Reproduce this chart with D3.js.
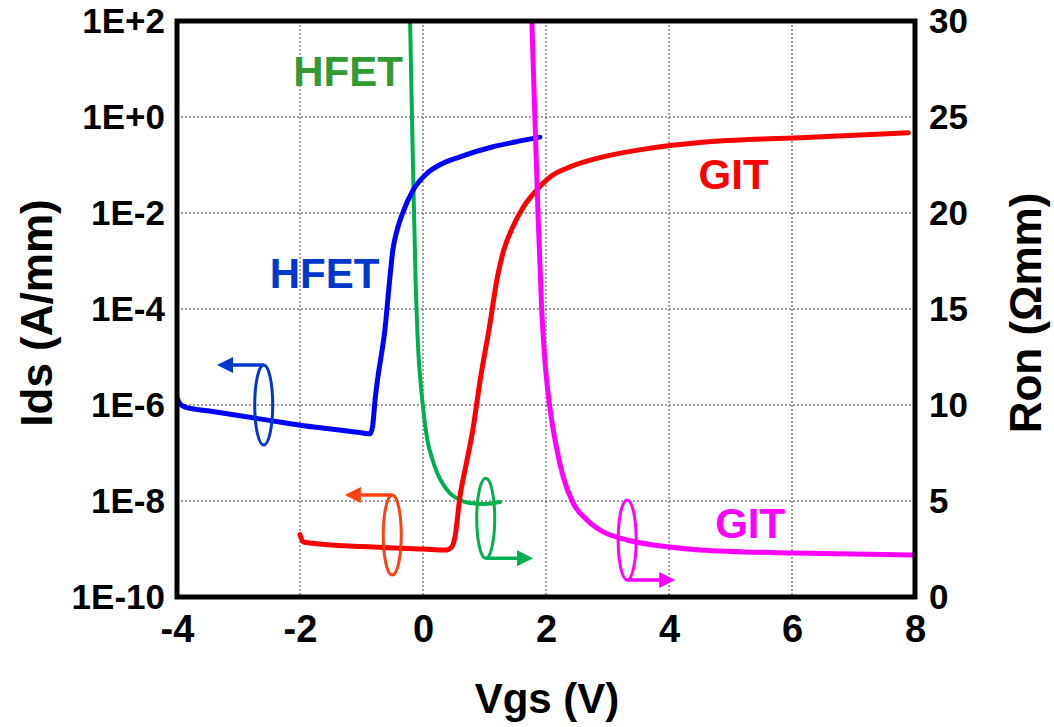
<!DOCTYPE html>
<html>
<head>
<meta charset="utf-8">
<script src="https://cdn.jsdelivr.net/npm/d3@7"></script>
<style>
  body { margin: 0; background: #fff; }
  svg { display: block; font-family: "Liberation Sans", Arial, sans-serif; font-weight: bold; }
</style>
</head>
<body>
<svg id="chart" width="1054" height="727"></svg>
<script>
// Ids (A/mm) vs Vgs, left log axis (values are log10)
const hfetIdsV = [-4.0, -3.95, -3.85, -3.5, -3.0, -2.5, -2.0, -1.5, -1.0, -0.86, -0.82, -0.78, -0.72, -0.67, -0.62, -0.55, -0.49, -0.42, -0.33, -0.16, 0.07, 0.3, 0.6, 1.14, 1.5, 1.9];
const hfetIdsLog = [-5.85, -5.98, -6.05, -6.12, -6.22, -6.32, -6.42, -6.5, -6.58, -6.6, -6.45, -5.9, -5.3, -4.9, -4.44, -3.5, -2.77, -2.35, -2.0, -1.52, -1.17, -0.98, -0.83, -0.62, -0.52, -0.42];

const gitIdsV = [-2.0, -1.95, -1.8, -1.0, 0.0, 0.38, 0.46, 0.52, 0.6, 0.7, 0.81, 0.93, 1.09, 1.2, 1.3, 1.46, 1.63, 1.85, 2.11, 2.39, 2.93, 3.69, 4.5, 6.13, 7.89];
const gitIdsLog = [-8.7, -8.85, -8.88, -8.95, -9.0, -9.02, -8.97, -8.75, -7.92, -7.25, -6.52, -5.48, -4.3, -3.4, -2.83, -2.29, -1.88, -1.52, -1.21, -1.04, -0.83, -0.65, -0.53, -0.43, -0.33];

// Ron (ohm mm) vs Vgs, right linear axis
const hfetRonV = [-0.22, -0.21, -0.16, -0.12, -0.08, -0.04, 0.0, 0.07, 0.15, 0.23, 0.33, 0.44, 0.6, 0.76, 1.0, 1.25];
const hfetRon = [31.5, 30, 22, 16.5, 13, 11.2, 9.9, 8.2, 7.2, 6.46, 5.85, 5.4, 5.05, 4.9, 4.85, 4.95];

const gitRonV = [1.76, 1.77, 1.87, 1.93, 1.99, 2.07, 2.17, 2.28, 2.44, 2.67, 2.93, 3.32, 4.0, 4.5, 6.02, 7.97];
const gitRon = [31, 30, 20, 15, 12, 9.7, 7.8, 6.25, 4.9, 4.0, 3.39, 2.97, 2.6, 2.45, 2.29, 2.19];

// tick labels
const xTicks = [-4, -2, 0, 2, 4, 6, 8];
const idsTicks = [1e2, 1e0, 1e-2, 1e-4, 1e-6, 1e-8, 1e-10];
const ronTicks = [0, 5, 10, 15, 20, 25, 30];

const svg = d3.select("#chart");
const pL = 177, pR = 915, pT = 21, pB = 597;

const x = d3.scaleLinear().domain([-4, 8]).range([pL, pR]);
const yIds = d3.scaleLog().domain([1e-10, 1e2]).range([pB, pT]);
const yRon = d3.scaleLinear().domain([0, 30]).range([pB, pT]);

svg.append("defs").append("clipPath").attr("id", "plotClip")
  .append("rect").attr("x", pL).attr("y", pT).attr("width", pR - pL).attr("height", pB - pT);

// grid
const grid = svg.append("g").attr("stroke", "#444").attr("stroke-width", 1).attr("stroke-dasharray", "2,2");
grid.selectAll("line.v").data(xTicks.slice(1, -1)).join("line").attr("class", "v")
  .attr("x1", d => x(d)).attr("x2", d => x(d)).attr("y1", pT).attr("y2", pB);
grid.selectAll("line.h").data(idsTicks.slice(1, -1)).join("line").attr("class", "h")
  .attr("y1", d => yIds(d)).attr("y2", d => yIds(d)).attr("x1", pL).attr("x2", pR);

// curves
const plot = svg.append("g").attr("clip-path", "url(#plotClip)");
const idsLine = d3.line().x(d => x(d[0])).y(d => yIds(Math.pow(10, d[1]))).curve(d3.curveMonotoneX);
const ronLine = d3.line().x(d => x(d[0])).y(d => yRon(d[1])).curve(d3.curveMonotoneX);

function addLine(path, color, w) {
  plot.append("path").attr("d", path).attr("fill", "none").attr("stroke", color)
    .attr("stroke-width", w).attr("stroke-linecap", "round").attr("stroke-linejoin", "round");
}
addLine(ronLine(d3.zip(hfetRonV, hfetRon)), "#00b050", 4);
addLine(idsLine(d3.zip(hfetIdsV, hfetIdsLog)), "#0000ff", 5);
addLine(idsLine(d3.zip(gitIdsV, gitIdsLog)), "#ff0000", 5);
addLine(ronLine(d3.zip(gitRonV, gitRon)), "#ff00ff", 5);

// ellipse + arrow markers showing which axis each curve belongs to
function axisMarker(cx, cy, tipX, color, up, toLeft) {
  const g = svg.append("g").attr("stroke", color).attr("fill", "none").attr("stroke-width", 3);
  g.append("ellipse").attr("cx", cx).attr("cy", cy).attr("rx", 9).attr("ry", 40);
  const ay = up ? cy - 40 : cy + 40;
  const head = toLeft ? tipX + 16 : tipX - 16;
  g.append("line").attr("x1", cx).attr("x2", head).attr("y1", ay).attr("y2", ay).attr("stroke-width", 3.5);
  g.append("path").attr("stroke", "none").attr("fill", color)
    .attr("d", `M${tipX},${ay} L${head},${ay - 8} L${head},${ay + 8} Z`);
}
axisMarker(x(-2.59), yIds(1e-6), x(-3.35), "#0038cc", true, true);
axisMarker(x(-0.5), yIds(Math.pow(10, -8.71)), x(-1.27), "#ff4010", true, true);
axisMarker(x(1.02), yRon(4.1), x(1.79), "#00b050", false, false);
axisMarker(x(3.32), yRon(2.97), x(4.1), "#ff00ff", false, false);

// curve labels
const labels = [
  { t: "HFET", x: x(-1.22), y: yRon(27.4), c: "#339933" },
  { t: "HFET", x: x(-1.6), y: yIds(Math.pow(10, -3.25)), c: "#0038cc" },
  { t: "GIT", x: x(5.05), y: yIds(Math.pow(10, -1.19)), c: "#ff0000" },
  { t: "GIT", x: x(5.32), y: yRon(3.85), c: "#ff00ff" }
];
svg.selectAll("text.lbl").data(labels).join("text").attr("class", "lbl")
  .attr("x", d => d.x).attr("y", d => d.y + 15).attr("text-anchor", "middle")
  .attr("font-size", 42).attr("fill", d => d.c).text(d => d.t);

// frame
svg.append("rect").attr("x", pL).attr("y", pT).attr("width", pR - pL).attr("height", pB - pT)
  .attr("fill", "none").attr("stroke", "#000").attr("stroke-width", 5);

// axes
const fmtIds = d => "1E" + (Math.log10(d) >= 0 ? "+" : "-") + Math.abs(Math.round(Math.log10(d)));
const axL = svg.append("g").attr("transform", `translate(${pL - 4},0)`)
  .call(d3.axisLeft(yIds).tickValues(idsTicks).tickFormat(fmtIds).tickSize(0).tickPadding(8));
const axR = svg.append("g").attr("transform", `translate(${pR + 4},0)`)
  .call(d3.axisRight(yRon).tickValues(ronTicks).tickFormat(d3.format("d")).tickSize(0).tickPadding(10));
const axB = svg.append("g").attr("transform", `translate(0,${pB + 4})`)
  .call(d3.axisBottom(x).tickValues(xTicks).tickFormat(d => d < 0 ? "-" + Math.abs(d) : d).tickSize(0).tickPadding(14));
[axL, axR, axB].forEach(a => {
  a.select(".domain").remove();
  a.selectAll("text").attr("font-family", "Liberation Sans, Arial, sans-serif").attr("font-weight", "bold").attr("fill", "#000");
});
axL.selectAll("text").attr("font-size", 35);
axR.selectAll("text").attr("font-size", 35);
axB.selectAll("text").attr("font-size", 38);

// axis titles
svg.append("text").attr("x", 547).attr("y", 713).attr("text-anchor", "middle").attr("font-size", 42).text("Vgs (V)");
svg.append("text").attr("transform", "translate(52,313) rotate(-90)").attr("text-anchor", "middle").attr("font-size", 44).text("Ids (A/mm)");
svg.append("text").attr("transform", "translate(1041,313) rotate(-90)").attr("text-anchor", "middle").attr("font-size", 44).text("Ron (Ωmm)");
</script>
</body>
</html>
